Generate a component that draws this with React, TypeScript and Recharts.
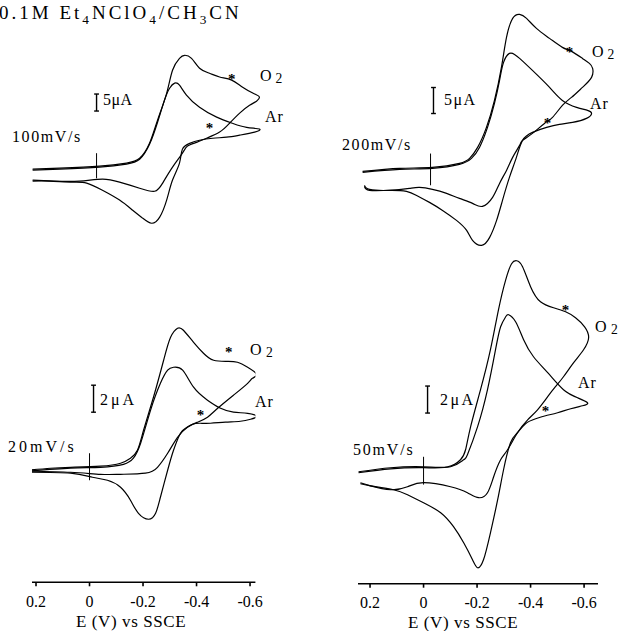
import React from "react";
import {
  ComposedChart,
  Line,
  Scatter,
  XAxis,
  YAxis,
  ReferenceLine,
} from "recharts";

// E (V vs SSCE), I (uA, cathodic up)
const tlO2 = [
  [0.239, 0.3], [0.138, 0.6], [-0.011, 1.2], [-0.112, 2.1], [-0.161, 3.5],
  [-0.198, 7.9], [-0.228, 14.7], [-0.262, 22.6], [-0.284, 29.4], [-0.31, 32.9],
  [-0.329, 33.8], [-0.355, 32.9], [-0.385, 30.0], [-0.422, 28.5], [-0.46, 27.4],
  [-0.505, 26.5], [-0.546, 24.4], [-0.591, 22.4], [-0.609, 21.5], [-0.598, 20.3],
  [-0.572, 19.1], [-0.535, 16.8], [-0.497, 13.8], [-0.46, 11.2], [-0.411, 9.4],
  [-0.374, 8.2], [-0.34, 7.1], [-0.321, 5.0], [-0.284, 0.9], [-0.247, -3.8],
  [-0.217, -6.2], [-0.161, -5.3], [-0.086, -3.5], [-0.022, -2.6], [0.064, -3.2],
  [0.157, -3.2], [0.239, -2.9],
];
const tlAr = [
  [0.239, 0], [0.138, 0.3], [-0.011, 0.9], [-0.112, 1.8], [-0.161, 3.2],
  [-0.198, 7.6], [-0.228, 14.1], [-0.254, 20.6], [-0.273, 24.1], [-0.292, 25.6],
  [-0.31, 25.0], [-0.336, 22.1], [-0.385, 18.5], [-0.449, 15.6], [-0.508, 13.8],
  [-0.561, 12.6], [-0.609, 12.1], [-0.591, 11.2], [-0.535, 10.3], [-0.486, 9.7],
  [-0.434, 9.4], [-0.385, 8.8], [-0.348, 7.9], [-0.321, 6.2], [-0.31, 2.1],
  [-0.284, -2.9], [-0.262, -8.8], [-0.236, -13.8], [-0.206, -15.6], [-0.172, -14.1],
  [-0.135, -11.8], [-0.086, -8.8], [-0.022, -5.9], [0.037, -3.8], [0.09, -3.5],
  [0.176, -3.2], [0.239, -3.2],
];

const trO2 = [
  [0.254, 0.77], [0.116, 1.35], [-0.007, 1.54], [-0.108, 2.31], [-0.146, 3.27],
  [-0.176, 5.38], [-0.209, 9.23], [-0.239, 14.42], [-0.265, 20.77], [-0.284, 26.54],
  [-0.307, 30.19], [-0.333, 30.96], [-0.359, 30.19], [-0.396, 28.27], [-0.445, 26.35],
  [-0.493, 24.62], [-0.527, 23.85], [-0.568, 22.5], [-0.594, 21.54], [-0.606, 20.58],
  [-0.602, 18.85], [-0.568, 16.92], [-0.527, 15.0], [-0.493, 13.46], [-0.456, 11.15],
  [-0.426, 10.0], [-0.381, 8.08], [-0.344, 6.73], [-0.333, 5.77], [-0.307, 3.46],
  [-0.284, 0.96], [-0.258, -1.54], [-0.232, -4.23], [-0.194, -5.96], [-0.157, -5.38],
  [-0.108, -4.42], [-0.06, -3.46], [-0.007, -2.69], [0.041, -2.31], [0.079, -2.5],
  [0.153, -2.88], [0.228, -2.69], [0.247, -1.92],
];
const trAr = [
  [0.254, 0.58], [0.116, 1.15], [-0.007, 1.35], [-0.108, 2.12], [-0.153, 3.27],
  [-0.183, 5.38], [-0.213, 9.23], [-0.239, 13.85], [-0.258, 18.27], [-0.273, 21.73],
  [-0.295, 23.46], [-0.314, 23.27], [-0.333, 22.5], [-0.381, 20.19], [-0.445, 16.92],
  [-0.493, 14.42], [-0.546, 13.08], [-0.587, 12.5], [-0.602, 11.92], [-0.583, 10.96],
  [-0.531, 10.19], [-0.482, 9.81], [-0.434, 9.23], [-0.381, 8.27], [-0.344, 6.73],
  [-0.321, 3.46], [-0.295, -0.38], [-0.269, -4.81], [-0.247, -8.65], [-0.221, -11.92],
  [-0.191, -13.46], [-0.157, -12.5], [-0.135, -10.58], [-0.097, -8.65], [-0.045, -6.73],
  [0.004, -5.19], [0.052, -3.85], [0.09, -3.08], [0.153, -2.88], [0.228, -2.88],
  [0.247, -2.12],
];

const blO2 = [
  [0.232, 0], [0.146, 0.15], [0.071, 0.22], [-0.041, 0.3], [-0.116, 0.52],
  [-0.153, 0.89], [-0.179, 1.48], [-0.202, 2.96], [-0.239, 5.41], [-0.277, 8.15],
  [-0.303, 9.85], [-0.329, 10.52], [-0.351, 10.37], [-0.389, 9.48], [-0.426, 8.67],
  [-0.464, 8.15], [-0.516, 8.07], [-0.553, 8.0], [-0.591, 7.63], [-0.624, 7.11],
  [-0.609, 6.81], [-0.591, 6.44], [-0.538, 5.56], [-0.479, 4.59], [-0.441, 3.93],
  [-0.404, 3.56], [-0.366, 3.19], [-0.329, 2.44], [-0.292, 1.26], [-0.254, 0.22],
  [-0.209, -0.22], [-0.116, -0.3], [-0.041, -0.3], [0.071, -0.15], [0.228, -0.07],
];
const blAr = [
  [0.232, -0.07], [0.071, 0.15], [-0.041, 0.22], [-0.127, 0.44], [-0.164, 0.89],
  [-0.191, 2.0], [-0.228, 4.44], [-0.265, 6.44], [-0.292, 7.41], [-0.314, 7.63],
  [-0.348, 7.41], [-0.389, 6.15], [-0.441, 5.19], [-0.49, 4.59], [-0.538, 4.3],
  [-0.591, 4.22], [-0.624, 4.0], [-0.602, 3.78], [-0.564, 3.63], [-0.508, 3.56],
  [-0.452, 3.48], [-0.415, 3.48], [-0.385, 3.41], [-0.359, 3.11], [-0.34, 2.74],
  [-0.314, 1.48], [-0.292, 0], [-0.265, -2.0], [-0.247, -3.19], [-0.221, -3.63],
  [-0.183, -3.19], [-0.153, -2.22], [-0.116, -1.26], [-0.067, -0.74], [-0.011, -0.52],
  [0.071, -0.22], [0.228, -0.15],
];

const brO2 = [
  [0.243, -0.15], [0.123, 0.15], [0, 0.22], [-0.09, 0.22], [-0.138, 0.74],
  [-0.157, 1.48], [-0.176, 3.19], [-0.213, 5.93], [-0.25, 8.89], [-0.28, 11.85],
  [-0.307, 14.07], [-0.329, 15.26], [-0.348, 15.48], [-0.37, 15.04], [-0.4, 13.56],
  [-0.437, 12.44], [-0.486, 12.0], [-0.531, 11.7], [-0.568, 11.26], [-0.602, 10.59],
  [-0.617, 9.78], [-0.598, 8.89], [-0.561, 7.93], [-0.523, 6.89], [-0.493, 6.15],
  [-0.464, 5.41], [-0.426, 4.44], [-0.389, 3.7], [-0.351, 2.74], [-0.314, 1.48],
  [-0.288, 0.74], [-0.262, -0.52], [-0.239, -1.7], [-0.206, -2.07], [-0.164, -1.7],
  [-0.101, -1.26], [0, -0.96], [0.06, -1.26], [0.123, -1.48], [0.198, -1.19],
  [0.236, -0.96],
];
const brAr = [
  [0.243, -0.22], [0.123, 0.07], [0, 0.15], [-0.101, 0.22], [-0.15, 0.74],
  [-0.164, 1.11], [-0.202, 3.19], [-0.239, 5.93], [-0.269, 8.89], [-0.288, 10.59],
  [-0.307, 11.33], [-0.318, 11.48], [-0.344, 10.96], [-0.374, 9.63], [-0.411, 8.37],
  [-0.464, 7.19], [-0.523, 5.93], [-0.576, 5.33], [-0.613, 4.96], [-0.594, 4.74],
  [-0.55, 4.52], [-0.501, 4.22], [-0.456, 4.0], [-0.419, 3.78], [-0.381, 3.41],
  [-0.351, 2.74], [-0.325, 2.0], [-0.299, 0], [-0.277, -2.22], [-0.25, -4.67],
  [-0.224, -6.67], [-0.202, -7.26], [-0.183, -6.67], [-0.15, -5.41], [-0.112, -4.22],
  [-0.064, -3.19], [0, -2.44], [0.06, -1.85], [0.112, -1.48], [0.198, -1.19],
  [0.236, -1.04],
];

// asterisks on the curves
const tlStars = [[-0.505, 27.2], [-0.422, 12.8]];
const trStars = [[-0.52, 24.0], [-0.437, 10.2]];
const blStars = [[-0.52, 8.8], [-0.415, 4.2]];
const brStars = [[-0.531, 11.9], [-0.456, 4.4]];

const eTicks = [0.2, 0, -0.2, -0.4, -0.6];

const serif = "'Liberation Serif', 'Times New Roman', serif";

const toPts = (rows: number[][]) => rows.map(([e, i]) => ({ e, i }));

const Star = (p: any) => (
  <text
    x={p.cx}
    y={p.cy + 6}
    textAnchor="middle"
    fontSize={15}
    fontWeight={700}
    fontFamily={serif}
    fill="#000"
  >
    *
  </text>
);

type PanelProps = {
  box: number[];
  xDomain: number[];
  yDomain: number[];
  o2: number[][];
  ar: number[][];
  stars: number[][];
  bar: number[];
  mark: number[];
  axis?: boolean;
};

const PAD = 24;

function Panel({ box, xDomain, yDomain, o2, ar, stars, bar, mark, axis }: PanelProps) {
  const axisH = axis ? 48 : 0;
  const [be, blo, bhi] = bar;
  return (
    <div style={{ position: "absolute", left: box[0] - PAD, top: box[1] }}>
      <ComposedChart
        width={box[2] + PAD * 2}
        height={box[3] + axisH}
        margin={{ top: 0, right: PAD, bottom: 0, left: PAD }}
      >
        <XAxis
          dataKey="e"
          type="number"
          domain={xDomain}
          reversed
          allowDataOverflow
          hide={!axis}
          height={axisH}
          ticks={eTicks}
          interval={0}
          tickSize={4}
          tickMargin={9}
          tick={{ fill: "#000", fontSize: 16, fontFamily: serif }}
          stroke="#000"
          strokeWidth={1.6}
        />
        <YAxis dataKey="i" type="number" domain={yDomain} allowDataOverflow hide />
        <ReferenceLine
          segment={[{ x: 0, y: mark[0] }, { x: 0, y: mark[1] }]}
          stroke="#000"
          strokeWidth={1}
        />
        <ReferenceLine
          segment={[{ x: be, y: blo }, { x: be, y: bhi }]}
          stroke="#000"
          strokeWidth={1.4}
        />
        <ReferenceLine
          segment={[{ x: be - 0.009, y: blo }, { x: be + 0.009, y: blo }]}
          stroke="#000"
          strokeWidth={1.4}
        />
        <ReferenceLine
          segment={[{ x: be - 0.009, y: bhi }, { x: be + 0.009, y: bhi }]}
          stroke="#000"
          strokeWidth={1.4}
        />
        <Line
          data={toPts(o2)}
          dataKey="i"
          type="natural"
          stroke="#000"
          strokeWidth={1.2}
          dot={false}
          isAnimationActive={false}
        />
        <Line
          data={toPts(ar)}
          dataKey="i"
          type="natural"
          stroke="#000"
          strokeWidth={1.2}
          dot={false}
          isAnimationActive={false}
        />
        <Scatter data={toPts(stars)} dataKey="i" shape={Star} isAnimationActive={false} />
      </ComposedChart>
    </div>
  );
}

function Note({ x, y, size = 16, ls = 1, children }: any) {
  return (
    <div
      style={{
        position: "absolute",
        left: x,
        top: y - size * 0.51,
        fontSize: size,
        lineHeight: `${size}px`,
        letterSpacing: ls,
        fontFamily: serif,
        color: "#000",
        whiteSpace: "nowrap",
      }}
    >
      {children}
    </div>
  );
}

const O2 = () => (
  <>
    O<span style={{ fontSize: "0.85em", marginLeft: 3, position: "relative", top: 2 }}>2</span>
  </>
);

export default function App() {
  return (
    <div
      style={{
        position: "absolute",
        left: 0,
        top: 0,
        width: 618,
        height: 631,
        overflow: "hidden",
        background: "#fff",
      }}
    >
      <Note x={-1} y={13} size={19} ls={3}>
        0.1M Et<sub style={{ fontSize: "0.7em" }}>4</sub>NClO
        <sub style={{ fontSize: "0.7em" }}>4</sub>/CH<sub style={{ fontSize: "0.7em" }}>3</sub>CN
      </Note>

      <Panel
        box={[27.45, 40.8, 238.1, 197.2]}
        xDomain={[-0.63, 0.26]}
        yDomain={[-20, 38]}
        o2={tlO2}
        ar={tlAr}
        stars={tlStars}
        bar={[0, 17.4, 22.4]}
        mark={[-2.4, 5.0]}
      />
      <Panel
        box={[361.45, 8.6, 243.4, 244.4]}
        xDomain={[-0.65, 0.26]}
        yDomain={[-15, 32]}
        o2={trO2}
        ar={trAr}
        stars={trStars}
        bar={[-0.011, 11.9, 16.9]}
        mark={[-1.9, 4.2]}
      />
      <Panel
        box={[31.5, 314.75, 223.4, 267.3]}
        xDomain={[-0.62, 0.215]}
        yDomain={[-8.3, 11.5]}
        o2={blO2}
        ar={blAr}
        stars={blStars}
        bar={[-0.015, 4.3, 6.3]}
        mark={[-0.74, 1.26]}
        axis
      />
      <Panel
        box={[357.5, 247.25, 240, 336.7]}
        xDomain={[-0.652, 0.245]}
        yDomain={[-8.44, 16.5]}
        o2={brO2}
        ar={brAr}
        stars={brStars}
        bar={[-0.015, 4.2, 6.2]}
        mark={[-1.1, 0.96]}
        axis
      />

      <Note x={12} y={137} ls={1.6}>100mV/s</Note>
      <Note x={103} y={100} ls={0.5}>5μA</Note>
      <Note x={260} y={76}><O2 /></Note>
      <Note x={265} y={117}>Ar</Note>

      <Note x={342} y={145} ls={1.6}>200mV/s</Note>
      <Note x={444} y={100} ls={1.5}>5μA</Note>
      <Note x={592} y={52}><O2 /></Note>
      <Note x={590} y={104}>Ar</Note>

      <Note x={8} y={447} ls={3}>20mV/s</Note>
      <Note x={100} y={400} ls={3}>2μA</Note>
      <Note x={250} y={350} ls={1.5}><O2 /></Note>
      <Note x={255} y={402}>Ar</Note>

      <Note x={353} y={450} ls={1.8}>50mV/s</Note>
      <Note x={440} y={400} ls={2.5}>2μA</Note>
      <Note x={595} y={327} ls={1.5}><O2 /></Note>
      <Note x={578} y={383}>Ar</Note>

      <Note x={76} y={622} size={17} ls={0.6}>E (V) vs SSCE</Note>
      <Note x={408} y={623} size={17} ls={0.6}>E (V) vs SSCE</Note>
    </div>
  );
}
